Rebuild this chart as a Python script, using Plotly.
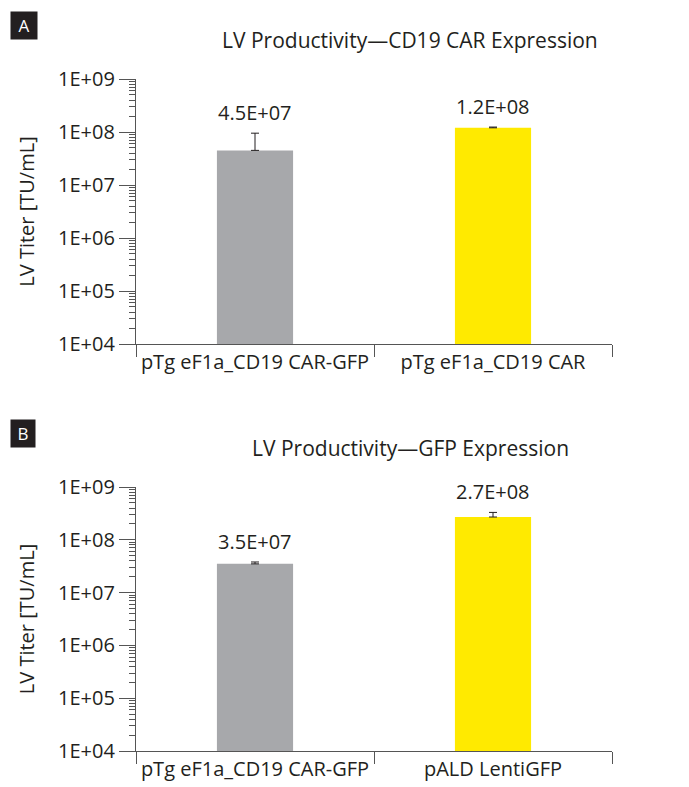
import math
import plotly.graph_objects as go

# Data
cats_a = ["pTg eF1a_CD19 CAR-GFP", "pTg eF1a_CD19 CAR"]
vals_a = [4.5e7, 1.2e8]
errs_a = [5.0e7, 4.0e6]
labels_a = ["4.5E+07", "1.2E+08"]

cats_b = ["pTg eF1a_CD19 CAR-GFP", "pALD LentiGFP"]
vals_b = [3.5e7, 2.7e8]
errs_b = [3.0e6, 6.0e7]
labels_b = ["3.5E+07", "2.7E+08"]

colors = ["#a7a8ab", "#ffea00"]
tickvals = [1e4, 1e5, 1e6, 1e7, 1e8, 1e9]
ticktext = ["1E+04", "1E+05", "1E+06", "1E+07", "1E+08", "1E+09"]

titles = ["LV Productivity\u2014CD19 CAR Expression", "LV Productivity\u2014GFP Expression"]
ytitle = "LV Titer [TU/mL]"

FONT = "Open Sans"
TXT = "#231f20"

fig = go.Figure()
annos = []

for i, (cats, vals, errs, labels) in enumerate([(cats_a, vals_a, errs_a, labels_a),
                                                 (cats_b, vals_b, errs_b, labels_b)]):
    xa = "x" if i == 0 else "x2"
    ya = "y" if i == 0 else "y2"
    fig.add_trace(go.Bar(
        x=cats, y=vals, marker=dict(color=colors, line=dict(width=0)),
        error_y=dict(type="data", array=errs, symmetric=False, arrayminus=[0]*len(errs),
                     color=TXT, thickness=1, width=4),
        xaxis=xa, yaxis=ya, showlegend=False, hoverinfo="skip"))
    for c, v, e, t in zip(cats, vals, errs, labels):
        annos.append(dict(x=c, y=math.log10(v + e), xref=xa, yref=ya, text=t,
                          showarrow=False, yanchor="bottom", yshift=5,
                          font=dict(family=FONT, size=20, color=TXT)))

def yax(domain, anchor):
    return dict(type="log", range=[4, 9], domain=domain, anchor=anchor, automargin=False,
                tickvals=tickvals, ticktext=ticktext,
                ticks="outside", ticklen=16, tickcolor="#555", tickwidth=1,
                minor=dict(ticks="outside", ticklen=6, tickcolor="#555", dtick="D1"),
                showline=True, linecolor="#555", linewidth=1.2,
                showgrid=False, zeroline=False,
                tickfont=dict(family=FONT, size=20, color=TXT),
                title=dict(text=ytitle, font=dict(family=FONT, size=20, color=TXT, weight=500),
                           standoff=18))

def xax(domain, anchor):
    return dict(domain=domain, anchor=anchor, type="category", automargin=False,
                tickson="boundaries", ticks="outside", ticklen=12, tickcolor="#555",
                showline=True, linecolor="#555", linewidth=1.2, showgrid=False,
                tickfont=dict(family=FONT, size=20, color=TXT))

W, H = 689, 787
xd = [136 / W, 612 / W]
annos += [
    dict(text=titles[0], x=410 / W, y=1 - 40 / H, xref="paper", yref="paper",
         yanchor="middle", showarrow=False, font=dict(family=FONT, size=21, color=TXT, weight=500)),
    dict(text=titles[1], x=410 / W, y=1 - 448 / H, xref="paper", yref="paper",
         yanchor="middle", showarrow=False, font=dict(family=FONT, size=21, color=TXT, weight=500)),
    dict(text="A", x=10 / W, y=1 - 11 / H, xref="paper", yref="paper",
         xanchor="left", yanchor="top", showarrow=False, bgcolor="#231f20",
         borderpad=2, font=dict(family=FONT, size=17, color="white"), width=22),
    dict(text="B", x=10 / W, y=1 - 419 / H, xref="paper", yref="paper",
         xanchor="left", yanchor="top", showarrow=False, bgcolor="#231f20",
         borderpad=2, font=dict(family=FONT, size=17, color="white"), width=20),
]

fig.update_layout(
    width=W, height=H, margin=dict(l=0, r=0, t=0, b=0, autoexpand=False),
    plot_bgcolor="white", paper_bgcolor="white", bargap=0.68,
    xaxis=xax(xd, "y"), yaxis=yax([1 - 344 / H, 1 - 79 / H], "x"),
    xaxis2=xax(xd, "y2"), yaxis2=yax([1 - 751 / H, 1 - 487 / H], "x2"),
    annotations=annos,
)

fig.write_html("out.html", config={"displayModeBar": False},
               post_script="document.body.style.margin='0';")
